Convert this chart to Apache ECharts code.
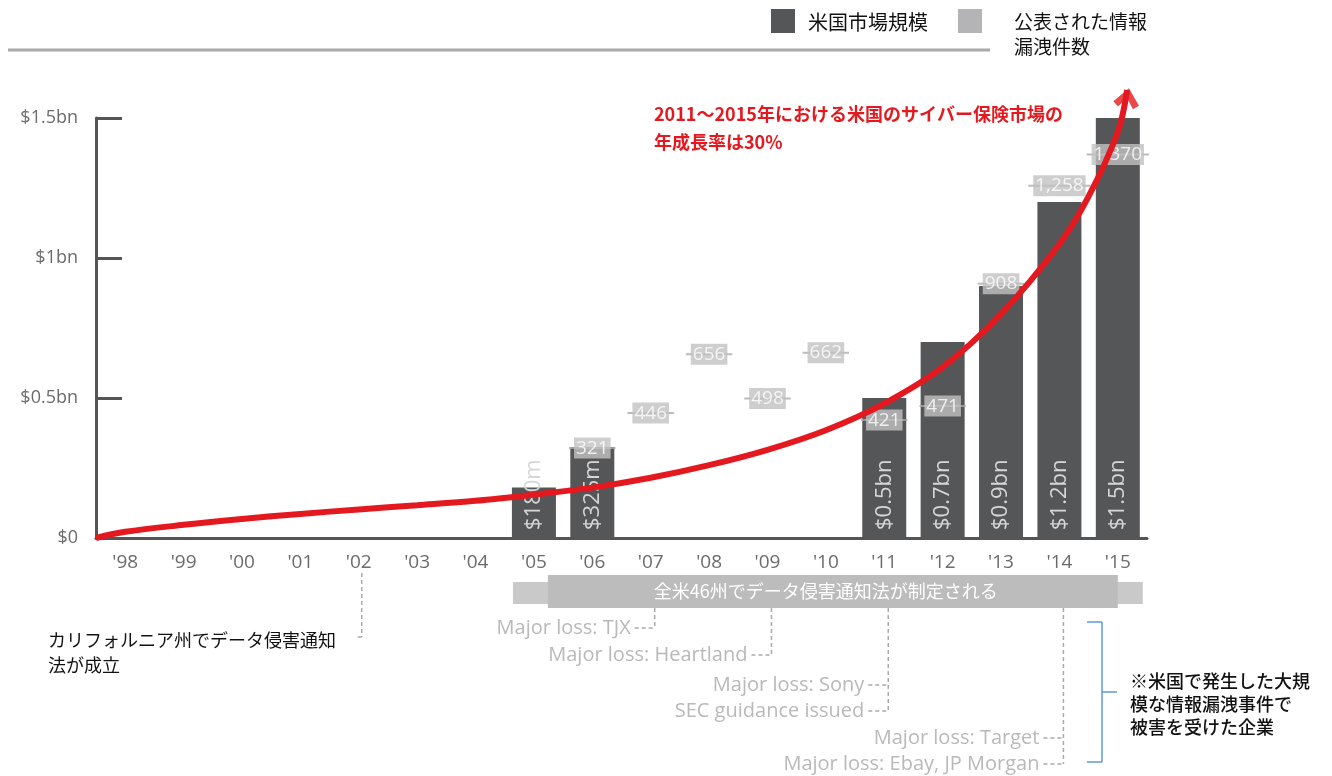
<!DOCTYPE html>
<html>
<head>
<meta charset="utf-8">
<script src="https://cdn.jsdelivr.net/npm/echarts@6.0.0/dist/echarts.min.js"></script>
<style>
  html,body{margin:0;padding:0;background:#fff;}
  #chart{width:1332px;height:776px;}
</style>
</head>
<body>
<div id="chart"></div>
<script>
"use strict";

// categories
const years = ["'98","'99","'00","'01","'02","'03","'04","'05","'06","'07","'08","'09","'10","'11","'12","'13","'14","'15"];
// US cyber insurance market size, $bn
const marketBn = [null,null,null,null,null,null,null,0.18,0.325,null,null,null,null,0.5,0.7,0.9,1.2,1.5];
const marketLabels = ['','','','','','','','$180m','$325m','','','','','$0.5bn','$0.7bn','$0.9bn','$1.2bn','$1.5bn'];
// publicly reported data breaches
const breaches = [null,null,null,null,null,null,null,null,321,446,656,498,662,421,471,908,1258,1370];
// red growth curve, [category position, $bn]
const growthCurve = [[-0.5,0],[0,0.022],[1,0.047],[2,0.068],[3,0.086],[4,0.102],[5,0.117],[6,0.133],[7,0.155],[8,0.18],[9,0.215],[10,0.26],[11,0.315],[12,0.385],[13,0.48],[14,0.61],[15,0.8],[16,1.05],[16.5,1.22],[17,1.45],[17.16,1.6]];
const arrowTip = [17.16,1.6];
const yTicks = {0:'$0',0.5:'$0.5bn',1:'$1bn',1.5:'$1.5bn'};

// annotations under the axis: [year index, text, row y]
const events = [
  [9,'Major loss: TJX',628],
  [11,'Major loss: Heartland',655],
  [13,'Major loss: Sony',685],
  [13,'SEC guidance issued',711],
  [16,'Major loss: Target',738],
  [16,'Major loss: Ebay, JP Morgan',764]
];

const CJK='"Noto Sans CJK JP", sans-serif';
const LAT='"Open Sans", "Noto Sans", sans-serif';
const BAR='#555658', LIGHT='#c2c2c2', RED='#e3191f';

const chart=echarts.init(document.getElementById('chart'));

function fmt(n){ return String(n).replace(/\B(?=(\d{3})+(?!\d))/g, ','); }
function dashWidth(v){ const s=fmt(v); return (s.length-(s.split(',').length-1))*10.8+(s.split(',').length-1)*5+14; }

chart.setOption({
  animation:false,
  grid:{left:96,right:185,top:118,bottom:238},
  xAxis:[{
    type:'category',data:years,boundaryGap:true,
    axisLine:{lineStyle:{color:'#555',width:3}},
    axisTick:{inside:true,length:9,interval:0,lineStyle:{color:'#555',width:2}},
    axisLabel:{color:'#6b6b6b',fontSize:19,fontFamily:LAT,margin:15,interval:0}
  },{
    type:'value',min:-0.5,max:17.5,show:false
  }],
  yAxis:[{
    type:'value',min:0,max:1.5,interval:0.5,
    axisLine:{show:true,onZero:false,lineStyle:{color:'#555',width:3}},
    axisTick:{show:true,inside:true,length:26,lineStyle:{color:'#555',width:3}},
    splitLine:{show:false},
    axisLabel:{color:'#6b6b6b',fontSize:18,fontFamily:LAT,margin:18,formatter:v=>yTicks[v]}
  },{
    type:'value',min:0,max:1500,show:false
  }],
  series:[{
    name:'米国市場規模',type:'bar',data:marketBn,barWidth:44,
    itemStyle:{color:BAR},
    label:{show:true,position:'insideBottom',rotate:90,align:'left',verticalAlign:'middle',distance:8,
      color:'#d6d6d6',fontSize:22,fontFamily:LAT,formatter:p=>marketLabels[p.dataIndex]}
  },{
    name:'公表された情報漏洩件数',type:'scatter',yAxisIndex:1,
    data:breaches.map(v=>v==null?null:{value:v,symbolSize:[dashWidth(v),2]}),
    symbol:'rect',itemStyle:{color:'#aaa'},
    label:{show:true,position:'inside',color:'#fff',fontSize:19,fontFamily:LAT,
      backgroundColor:LIGHT,padding:[1,2],formatter:p=>fmt(p.value)}
  },{
    type:'line',xAxisIndex:1,data:growthCurve,smooth:0.35,symbol:'none',clip:false,
    lineStyle:{color:RED,width:6}
  },{
    type:'scatter',xAxisIndex:1,data:[arrowTip],clip:false,
    symbol:'path://M0,14 L12,0 L24,14 L19,18 L12,9 L5,18 Z',symbolSize:[26,20],symbolRotate:-10,symbolOffset:[0,8],
    itemStyle:{color:RED}
  }]
});

function px(i){ return chart.convertToPixel({xAxisIndex:0},years[i]); }

const g=[];
const dash={stroke:'#aaa',lineWidth:1.5,lineDash:[4,3]};
function line(x1,y1,x2,y2,style){ g.push({type:'line',shape:{x1,y1,x2,y2},style,silent:true}); }
function text(x,y,t,style){ g.push({type:'text',x,y,style:Object.assign({text:t},style),silent:true}); }

// top rule and legend
line(8,50,990,50,{stroke:'#aaa',lineWidth:3});
g.push({type:'rect',shape:{x:771,y:9,width:24,height:24},style:{fill:BAR}});
text(808,22,'米国市場規模',{fill:'#111',font:'20px '+CJK,verticalAlign:'middle'});
g.push({type:'rect',shape:{x:958,y:9,width:24,height:24},style:{fill:'#b4b4b6'}});
text(1014,9,'公表された情報\n漏洩件数',{fill:'#111',font:'19px '+CJK,lineHeight:25});

// red growth note
text(654,100,'2011～2015年における米国のサイバー保険市場の\n年成長率は30%',{fill:RED,font:'bold 18px '+CJK,lineHeight:28});

// law band
const x05=px(7), x15=px(17);
g.push({type:'rect',shape:{x:x05-21,y:582,width:x15-x05+46,height:22},style:{fill:'#c9c9c9'}});
g.push({type:'rect',shape:{x:x05+14,y:575,width:x15-x05-14,height:33},style:{fill:'#bcbcbc'}});
text((x05+x15)/2,591,'全米46州でデータ侵害通知法が制定される',{fill:'#fff',font:'18px '+CJK,align:'center',verticalAlign:'middle'});

// California note
const x02=px(4)+3;
line(x02,573,x02,637,dash); line(x02,637,x02-6,637,dash);
text(48,628,'カリフォルニア州でデータ侵害通知\n法が成立',{fill:'#111',font:'18px '+CJK,lineHeight:25,verticalAlign:'top'});

// loss events with connectors
const lowest={};
events.forEach(e=>{ lowest[e[0]]=Math.max(lowest[e[0]]||0,e[2]); });
Object.keys(lowest).forEach(k=>{ const x=px(+k)+4; line(x,608,x,lowest[k],dash); });
events.forEach(e=>{
  const x=px(e[0])+4;
  line(x-20,e[2],x,e[2],dash);
  text(x-24,e[2],e[1],{fill:'#b9b9b9',font:'20px '+LAT,align:'right',verticalAlign:'middle'});
});

// bracket and note
const blue={stroke:'#5b9bd5',lineWidth:1.5};
line(1087,622,1102,622,blue); line(1102,622,1102,762,blue); line(1087,762,1102,762,blue); line(1102,692,1117,692,blue);
text(1130,670,'※米国で発生した大規\n模な情報漏洩事件で\n被害を受けた企業',{fill:'#111',font:'500 18px '+CJK,lineHeight:23,verticalAlign:'top'});

chart.setOption({graphic:g});
</script>
</body>
</html>
